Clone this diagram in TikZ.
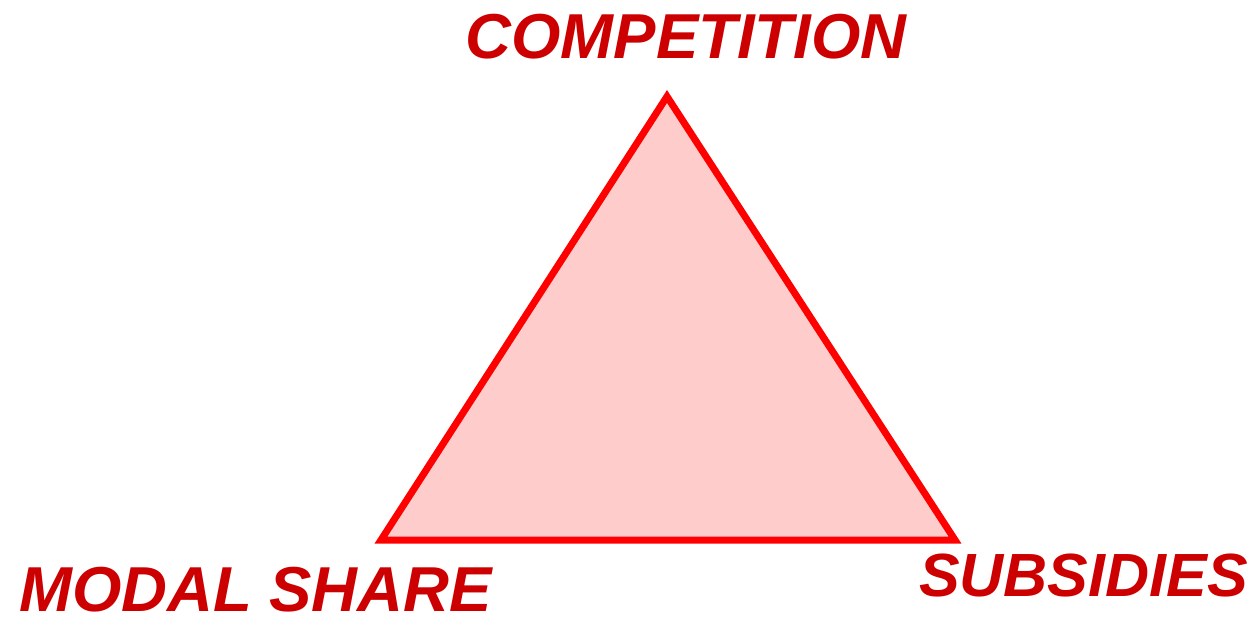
\documentclass[tikz,border=0pt]{standalone}
\usepackage{fontspec}
\setmainfont{Liberation Sans}
\definecolor{txtred}{RGB}{204,0,0}
\definecolor{trifill}{RGB}{255,204,204}
\definecolor{triline}{RGB}{255,0,0}
\begin{document}
\begin{tikzpicture}[x=1pt,y=-1pt,
  lbl/.style={text=txtred,font=\fontsize{63.5}{63.5}\selectfont\bfseries\itshape,inner sep=0pt,text depth=0pt},
  tri/.style={draw=triline,fill=trifill,line width=7pt,line join=miter}]
\useasboundingbox (0,0) rectangle (1257,617);
\coordinate (T) at (667,96.5);
\coordinate (L) at (381,540);
\coordinate (R) at (955,540);
\draw[tri] (T) -- (L) -- (R) -- cycle;
\node[lbl,anchor=base] (comp) at (686,59) {COMPETITION};
\node[lbl,anchor=base west] (modal) at (19,611.5) {MODAL SHARE};
\node[lbl,anchor=base west,font=\fontsize{61}{61}\selectfont\bfseries\itshape] (subs) at (919,596) {SUBSIDIES};
\end{tikzpicture}
\end{document}
